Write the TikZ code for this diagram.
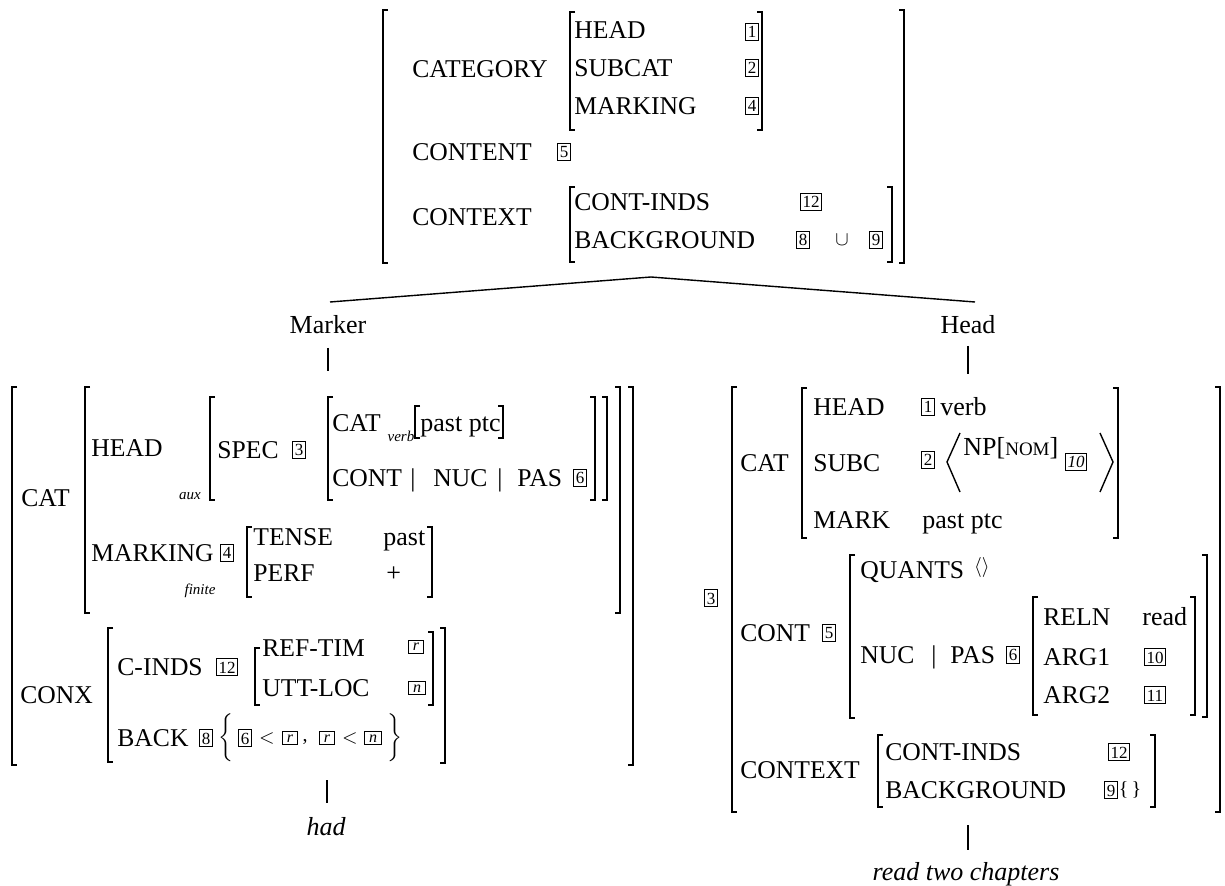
\documentclass[tikz,border=0pt]{standalone}
\usepackage{fontspec}
\setmainfont{Liberation Serif}
\usetikzlibrary{positioning}

\tikzset{
  feat/.style={anchor=west,inner sep=0pt,text height=8.4pt,text depth=0pt,font=\fontsize{12.8}{14}\selectfont},
  val/.style={anchor=west,inner sep=0pt,text height=8.3pt,text depth=0pt,font=\fontsize{13}{15}\selectfont},
  tagbox/.style={draw,line width=0.5pt,inner xsep=1pt,inner ysep=1.4pt,text height=6pt,text depth=0pt,font=\fontsize{8.5}{9}\selectfont},
  itag/.style={tagbox,font=\fontsize{8}{9}\selectfont\itshape,inner xsep=2.2pt,inner ysep=1.2pt,text height=4pt},
  sub/.style={inner sep=0pt,font=\fontsize{7.5}{8}\selectfont\itshape},
  lab/.style={inner sep=0pt,text height=8.5pt,text depth=0pt,font=\fontsize{13}{15}\selectfont},
  brk/.style={line width=0.7pt},
}
\newcommand\lbrk[3]{\draw[brk] (#1+5,#2) -- (#1,#2) -- (#1,#3) -- (#1+5,#3);}
\newcommand\rbrk[3]{\draw[brk] (#1-5,#2) -- (#1,#2) -- (#1,#3) -- (#1-5,#3);}

\begin{document}
\begin{tikzpicture}[x=0.5pt,y=-0.5pt]
 \useasboundingbox (0,0) rectangle (1225,886);

 % brackets
 \foreach \x/\a/\b in {383/10/263,570/12/130,570/187/262,
   12/387/765,85/387/613,210/397/500,328/397/500,415/406/438,247/527/597,108/628/762,255/648/705,
   732/387/812,802/388/538,850/555/718,1033/597/715,878/735/807}
   {\lbrk{\x}{\a}{\b}}
 \foreach \x/\a/\b in {904/10/263,762/12/130,892/187/262,
   633/387/765,620/387/613,607/397/500,595/397/500,503/406/438,432/527/597,445/628/763,433/632/705,
   1220/387/812,1118/388/538,1207/555/717,1195/597/715,1155/735/807}
   {\rbrk{\x}{\a}{\b}}

 % mother
 \foreach \nm/\x/\y/\t in {tcat/412/69/CATEGORY,tcont/412/152/CONTENT,tctx/412/217/CONTEXT,
   thead/574/30/HEAD,tsub/574/68/SUBCAT,tmark/574/106/MARKING,tci/574/202/CONT-INDS,tbg/574/240/BACKGROUND}
   \node[feat] (\nm) at (\x,\y) {\t};
 \foreach \nm/\x/\y/\t in {ta1/752/32/1,ta2/752/68/2,ta4/752/106/4,ta5/564/152/5,ta12/811/202/12,ta8/803/240/8,ta9/876/240/9}
   \node[tagbox] (\nm) at (\x,\y) {\t};
 \node (tcup) at (842,240) {$\cup$};

 % tree
 \coordinate (apex) at (651,277);
 \coordinate (mkend) at (330,302);
 \coordinate (hdend) at (975,302);
 \node[lab] (mk) at (328,325) {Marker};
 \node[lab] (hd) at (968,325) {Head};
 \draw[line width=0.7pt] (mkend) -- (apex) -- (hdend);
 \draw[line width=0.6pt] ([yshift=-7pt]mk.south) -- ++(0,23);
 \draw[line width=0.6pt] ([yshift=-6pt]hd.south) -- ++(0,28);

 % marker daughter
 \foreach \nm/\x/\y/\t in {lcat/21/498/CAT,lconx/20/695/CONX,lhead/91/448/HEAD,lspec/217/450/SPEC,
   lcat2/332/423/CAT,lcont/332/478/CONT,lbar1/410/478/|,lnuc/433/478/NUC,lbar2/497/478/|,lpas/517/478/PAS,
   lmark/91/553/MARKING,ltense/253/537/TENSE,lperf/253/573/PERF,
   lcinds/117/667/C-INDS,lref/262/648/REF-TIM,lutt/262/688/UTT-LOC,lback/117/738/BACK}
   \node[feat] (\nm) at (\x,\y) {\t};
 \foreach \nm/\x/\y/\t in {lptc/420/423/past ptc,lpast/383/537/past,lplus/386/573/+}
   \node[val] (\nm) at (\x,\y) {\t};
 \foreach \nm/\x/\y/\t in {tb3/299/450/3,tb6/580/478/6,tb4/227/553/4,tb12/227/667/12,tb8/206/738/8,tc6/245/738/6}
   \node[tagbox] (\nm) at (\x,\y) {\t};
 \foreach \nm/\x/\y/\t in {tra/416/647/r,tna/417/688/n,trb/290/738/r,trc/327/738/r,tnb/373/738/n}
   \node[itag] (\nm) at (\x,\y) {\t};
 \foreach \nm/\x/\y/\t in {saux/190/496/aux,sfin/200/591/finite,sverb/401/436/verb}
   \node[sub] (\nm) at (\x,\y) {\t};
 \node[inner sep=0pt] (lt1) at (267,738) {$<$};
 \node[inner sep=0pt] (lcm) at (305,742) {,};
 \node[inner sep=0pt] (lt2) at (350,738) {$<$};
 \node[inner sep=0pt,font=\fontsize{12.5}{14}\selectfont] (lbo) at (226,738) {$\bigg\{$};
 \node[inner sep=0pt,font=\fontsize{12.5}{14}\selectfont] (lbc) at (395,738) {$\bigg\}$};
 \draw[line width=0.6pt] (327,780) -- (327,803);
 \node[lab,font=\fontsize{13}{15}\selectfont\itshape] (had) at (326,827) {had};

 % head daughter
 \foreach \nm/\x/\y/\t in {rcat/740/463/CAT,rcont/740/633/CONT,rctx/740/770/CONTEXT,
   rhead/813/407/HEAD,rsubc/813/463/SUBC,rmark/813/520/MARK,rq/860/570/QUANTS,
   rnuc/860/655/NUC,rbar/931/655/|,rpas/950/655/PAS,rreln/1043/617/RELN,rarg1/1043/657/ARG1,rarg2/1043/695/ARG2,
   rci/885/752/CONT-INDS,rbg/885/790/BACKGROUND}
   \node[feat] (\nm) at (\x,\y) {\t};
 \foreach \nm/\x/\y/\t in {rverb/940/407/verb,rptc/922/520/past ptc,rread/1142/617/read}
   \node[val] (\nm) at (\x,\y) {\t};
 \node[val] (np) at (963,447) {NP[{\fontsize{9.5}{10}\selectfont NOM}]};
 \foreach \nm/\x/\y/\t in {td3/711/598/3,td1/928/407/1,td2/928/460/2,td5/829/633/5,td6/1013/655/6,
   td10/1155/657/10,td11/1155/695/11,td12/1119/752/12,td9/1111/790/9}
   \node[tagbox] (\nm) at (\x,\y) {\t};
 \node[tagbox,font=\fontsize{8.5}{9}\selectfont\itshape] (te10) at (1076,462) {10};
 \draw[brk] (960,433) -- (947,462) -- (960,492);
 \draw[brk] (1100,433) -- (1113,462) -- (1100,492);
 \node[inner sep=0pt] (rang) at (982,568) {$\langle\rangle$};
 \node[inner sep=0pt] (rset) at (1130,790) {\{\,\}};
 \draw[line width=0.6pt] (968,825) -- (968,850);
 \node[lab,font=\fontsize{13}{15}\selectfont\itshape] (rtc) at (966,872) {read two chapters};
\end{tikzpicture}
\end{document}
